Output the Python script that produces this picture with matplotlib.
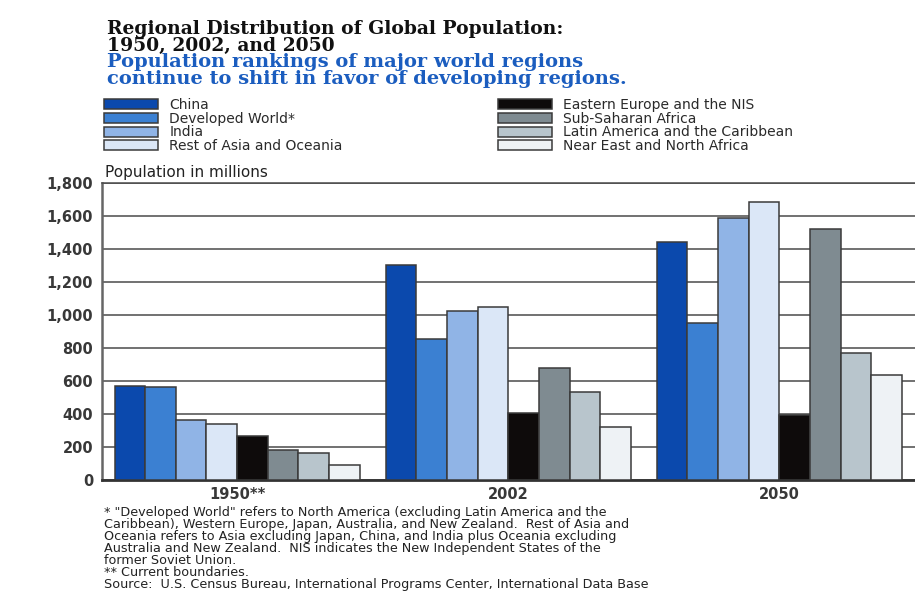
import matplotlib.pyplot as plt
import numpy as np

# population in millions, per region and year
years = ["1950**", "2002", "2050"]
regions = [
    "China",
    "Developed World*",
    "India",
    "Rest of Asia and Oceania",
    "Eastern Europe and the NIS",
    "Sub-Saharan Africa",
    "Latin America and the Caribbean",
    "Near East and North Africa",
]
china = [573, 1306, 1441]
developed = [563, 858, 955]
india = [367, 1027, 1592]
rest_asia = [341, 1050, 1689]
east_europe = [266, 404, 394]
ss_africa = [180, 680, 1522]
latin_america = [166, 531, 773]
near_east = [89, 323, 640]
series = [china, developed, india, rest_asia, east_europe, ss_africa,
          latin_america, near_east]

colors = ["#0b49ad", "#3b80d2", "#90b4e6", "#dbe7f7",
          "#0e0b0b", "#7f8b91", "#b8c5cc", "#eef2f5"]

y_ticks = [0, 200, 400, 600, 800, 1000, 1200, 1400, 1600, 1800]

footnote = (
    "* \"Developed World\" refers to North America (excluding Latin America and the\n"
    "Caribbean), Western Europe, Japan, Australia, and New Zealand.  Rest of Asia and\n"
    "Oceania refers to Asia excluding Japan, China, and India plus Oceania excluding\n"
    "Australia and New Zealand.  NIS indicates the New Independent States of the\n"
    "former Soviet Union.\n"
    "** Current boundaries.\n"
    "Source:  U.S. Census Bureau, International Programs Center, International Data Base"
)

W, H = 915, 596
fig = plt.figure(figsize=(W / 100, H / 100), dpi=100)
fig.patch.set_facecolor("white")

ax = fig.add_axes([101.5 / W, (H - 480) / H, 1 - 101.5 / W, (480 - 183.3) / H])

x = np.arange(len(years))
bw = 0.113
bars = []
for i, (vals, c, name) in enumerate(zip(series, colors, regions)):
    b = ax.bar(x + (i - 3.5) * bw, vals, bw, color=c, edgecolor="#3a3a3a",
               linewidth=1.1, zorder=3, label=name)
    bars.append(b)

ax.set_xlim(-0.5, 2.5)
ax.set_ylim(0, 1800)
ax.set_yticks(y_ticks)
ax.set_yticklabels([f"{v:,}" for v in y_ticks])
ax.set_xticks(x)
ax.set_xticklabels(years)
ax.tick_params(length=0, labelsize=10.5, labelcolor="#383838")
ax.tick_params(axis="y", pad=6)
ax.tick_params(axis="x", pad=5)
for lab in ax.get_xticklabels() + ax.get_yticklabels():
    lab.set_fontweight("bold")

ax.yaxis.grid(True, color="#4a4a4a", linewidth=1.1)
ax.set_axisbelow(True)
ax.spines["right"].set_visible(False)
ax.spines["top"].set_color("#4a4a4a")
ax.spines["top"].set_linewidth(1.1)
ax.spines["left"].set_color("#666666")
ax.spines["left"].set_linewidth(1.8)
ax.spines["bottom"].set_color("#333333")
ax.spines["bottom"].set_linewidth(2)

# titles (multi-line text: baseline refers to the last line)
fig.text(107 / W, 1 - 51 / H, "Regional Distribution of Global Population:\n1950, 2002, and 2050",
         family="DejaVu Serif", fontweight="bold", fontsize=13.5, color="#111111",
         va="baseline", ha="left", linespacing=0.9)
fig.text(107 / W, 1 - 84 / H,
         "Population rankings of major world regions\ncontinue to shift in favor of developing regions.",
         family="DejaVu Serif", fontweight="bold", fontsize=14, color="#1b5dbf",
         va="baseline", ha="left", linespacing=0.9)

# legend, two columns of four
leg_kw = dict(loc="upper left", frameon=False, fontsize=10, handlelength=3.9,
              handleheight=0.72, handletextpad=0.8, labelspacing=-0.02,
              borderpad=0, borderaxespad=0, labelcolor="#2a2a2a")
fig.legend(handles=bars[:4], bbox_to_anchor=(104 / W, 1 - 98 / H), **leg_kw)
fig.legend(handles=bars[4:], bbox_to_anchor=(498 / W, 1 - 98 / H), **leg_kw)

fig.text(105 / W, 1 - 177 / H, "Population in millions", fontsize=11,
         color="#222222", va="baseline", ha="left")

fig.text(104 / W, 1 - 588 / H, footnote, fontsize=9.2, color="#222222",
         va="baseline", ha="left", linespacing=0.9)

fig.savefig("out.png", dpi=100)
